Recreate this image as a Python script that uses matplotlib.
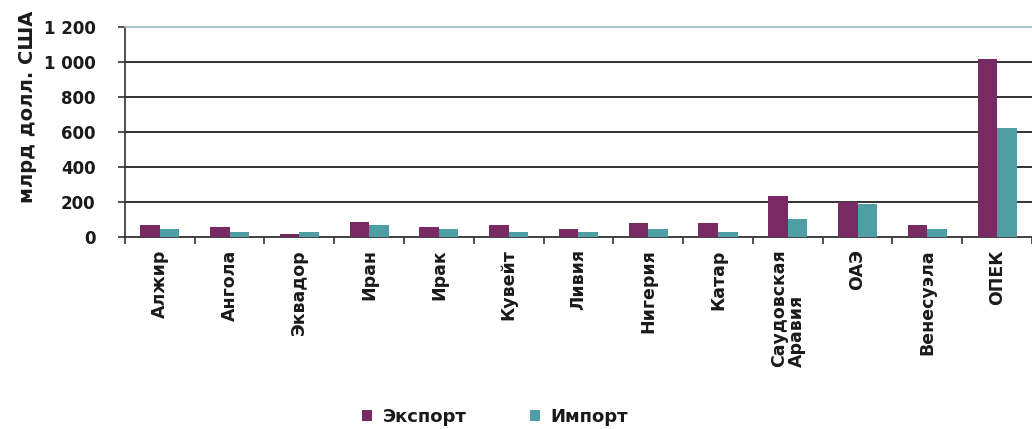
import matplotlib.pyplot as plt
import numpy as np

plt.rcParams['font.family'] = ['DejaVu Sans']

countries = ['Алжир', 'Ангола', 'Эквадор', 'Иран', 'Ирак', 'Кувейт', 'Ливия',
             'Нигерия', 'Катар', 'Саудовская\nАравия', 'ОАЭ', 'Венесуэла', 'ОПЕК']
export_vals = [65, 54, 18, 87, 56, 66, 44, 78, 78, 234, 200, 68, 1015]
import_vals = [45, 28, 25, 67, 47, 30, 27, 45, 27, 102, 185, 45, 620]
y_ticks = [0, 200, 400, 600, 800, 1000, 1200]
y_tick_labels = ['0', '200', '400', '600', '800', '1 000', '1 200']

c_export = '#7a2a63'
c_import = '#4f9ea6'

fig = plt.figure(figsize=(10.32, 4.29), dpi=100)
ax = fig.add_axes([0.121, 0.448, 0.879, 0.489])

x = np.arange(len(countries))
w = 0.28
ax.bar(x - w / 2, export_vals, w, color=c_export, label='Экспорт', zorder=3)
ax.bar(x + w / 2, import_vals, w, color=c_import, label='Импорт', zorder=3)

ax.set_xlim(-0.5, len(countries) - 0.5)
ax.set_ylim(0, 1200)
ax.set_yticks(y_ticks)
ax.set_yticklabels(y_tick_labels, fontsize=12, fontweight='bold', color='#1a1a1a')
for yv in y_ticks[1:-1]:
    ax.axhline(yv, color='#222222', lw=1.3, zorder=1)

ax.set_xticks(x)
ax.set_xticklabels(countries, rotation=90, fontsize=12.5, fontweight='bold',
                   va='top', ha='center', multialignment='left', color='#1a1a1a',
                   linespacing=1.0)
ax.tick_params(axis='x', length=0, pad=9)
ax.set_xticks(np.arange(len(countries) + 1) - 0.5, minor=True)
ax.tick_params(axis='x', which='minor', length=5, width=1.2, color='#333333')
ax.tick_params(axis='y', length=5, width=1.2, color='#333333', pad=16)

ax.spines['top'].set_color('#9ab8bb')
ax.spines['top'].set_linewidth(1.2)
ax.spines['right'].set_visible(False)
ax.spines['left'].set_color('#333333')
ax.spines['left'].set_linewidth(1.2)
ax.spines['bottom'].set_color('#333333')
ax.spines['bottom'].set_linewidth(1.3)

ax.set_ylabel('млрд долл. США', fontsize=14, fontweight='bold', color='#1a1a1a')
ax.yaxis.set_label_coords(-0.097, 0.62)

fig.legend(loc='lower center', bbox_to_anchor=(0.48, -0.03), ncol=2, frameon=False,
           prop={'size': 13, 'weight': 'bold'}, handlelength=0.55, handleheight=0.55,
           columnspacing=3.5, handletextpad=0.6, labelcolor='#1a1a1a')

fig.savefig('out.png', dpi=100)
